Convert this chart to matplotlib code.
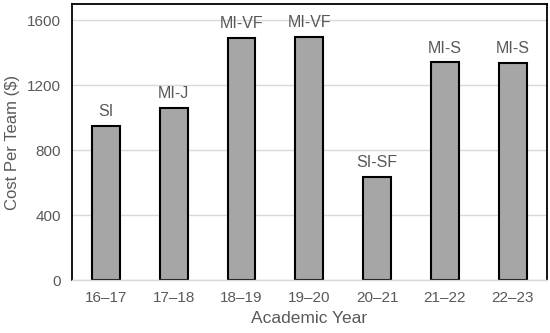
import matplotlib.pyplot as plt
import numpy as np

plt.rcParams['font.family'] = ['Liberation Sans', 'DejaVu Sans']

years = ["16–17", "17–18", "18–19", "19–20", "20–21", "21–22", "22–23"]
cost = [950, 1062, 1488, 1495, 632, 1340, 1336]
labels = ["SI", "MI-J", "MI-VF", "MI-VF", "SI-SF", "MI-S", "MI-S"]

text_color = '#595959'
x = np.arange(len(years))

fig = plt.figure(figsize=(5.5, 3.33), dpi=100)
ax = fig.add_axes([0.131, 0.159, 0.863, 0.829])

ax.grid(axis='y', color='#d9d9d9', linewidth=1)
ax.set_axisbelow(True)
rects = ax.bar(x, cost, width=0.41, color='#a6a6a6', edgecolor='black', linewidth=1.5)
ax.bar_label(rects, labels=labels, padding=5, fontsize=11.5, color=text_color)

ax.set_xlim(-0.5, 6.5)
ax.set_ylim(0, 1700)
ax.set_yticks([0, 400, 800, 1200, 1600])
ax.set_xticks(x, years)
ax.tick_params(length=0, labelsize=11, labelcolor=text_color, pad=8)
ax.tick_params(axis='y', pad=8)

ax.set_xlabel('Academic Year', fontsize=12.5, color=text_color, labelpad=4)
ax.set_ylabel('Cost Per Team ($)', fontsize=12, color=text_color)
ax.yaxis.set_label_coords(-0.11, 0.5)

for side in ['left', 'top', 'right']:
    ax.spines[side].set_linewidth(1.3)
    ax.spines[side].set_color('black')
ax.spines['bottom'].set_color('#d9d9d9')
ax.spines['bottom'].set_linewidth(1)

plt.savefig('out.png', dpi=100)
